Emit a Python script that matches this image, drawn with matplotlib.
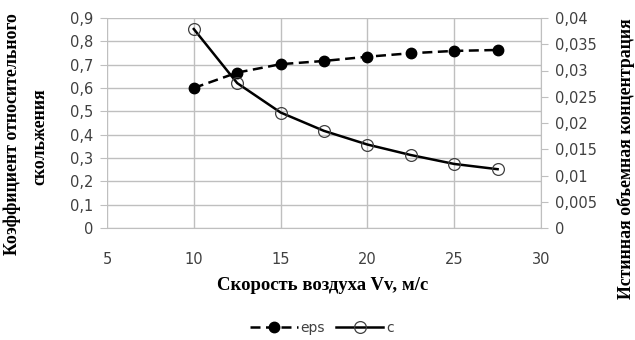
import matplotlib.pyplot as plt

v = [10, 12.5, 15, 17.5, 20, 22.5, 25, 27.5]
eps = [0.600, 0.666, 0.702, 0.716, 0.734, 0.749, 0.759, 0.763]
c = [0.0379, 0.0276, 0.0220, 0.0185, 0.0159, 0.0139, 0.0122, 0.0112]

x_ticks = [5, 10, 15, 20, 25, 30]
y1_ticks = [0, 0.1, 0.2, 0.3, 0.4, 0.5, 0.6, 0.7, 0.8, 0.9]
y2_ticks = [0, 0.005, 0.01, 0.015, 0.02, 0.025, 0.03, 0.035, 0.04]


def comma(val):
    return ('%g' % val).replace('.', ',')


W, H = 635, 340
grid_col = '#bfbfbf'
tick_col = '#404040'

fig = plt.figure(figsize=(6.35, 3.4), dpi=100)
ax = fig.add_axes([107 / W, 1 - 228 / H, 434 / W, 210 / H])
ax2 = ax.twinx()

ax.set_xlim(5, 30)
ax.set_ylim(0, 0.9)
ax2.set_ylim(0, 0.04)
ax.set_xticks(x_ticks)
ax.set_xticklabels([comma(t) for t in x_ticks])
ax.set_yticks(y1_ticks)
ax.set_yticklabels([comma(t) for t in y1_ticks])
ax2.set_yticks(y2_ticks)
ax2.set_yticklabels([comma(t) for t in y2_ticks])

ax.grid(True, color=grid_col, linewidth=1)
ax.set_axisbelow(True)
for a in (ax, ax2):
    for s in a.spines.values():
        s.set_visible(False)
ax2.spines['right'].set_visible(True)
ax2.spines['right'].set_color(grid_col)
ax.spines['bottom'].set_visible(True)
ax.spines['bottom'].set_color(grid_col)

ax.tick_params(axis='y', length=5, color=grid_col, labelcolor=tick_col, pad=5)
ax.tick_params(axis='x', length=0, labelcolor=tick_col, pad=17)
ax2.tick_params(axis='y', length=5, color=grid_col, labelcolor=tick_col, pad=5)
for lab in ax.get_xticklabels() + ax.get_yticklabels() + ax2.get_yticklabels():
    lab.set_fontfamily('DejaVu Sans')
    lab.set_fontsize(10.5)

l1, = ax.plot(v, eps, color='black', linestyle='--', linewidth=1.8,
              marker='o', markersize=7.5, markerfacecolor='black',
              markeredgecolor='black', label='eps', dashes=(4, 2.2))
l2, = ax2.plot(v, c, color='black', linestyle='-', linewidth=1.8,
               marker='o', markersize=8.5, markerfacecolor='none',
               markeredgecolor='#404040', markeredgewidth=0.9, label='c')

serif = dict(family='Liberation Serif', weight='bold')
fig.text(323 / W, 1 - 286 / H, 'Скорость воздуха Vv, м/с', ha='center',
         va='center', size=13.5, **serif)
fig.text(12 / W, 1 - 134 / H, 'Коэффициент относительного', rotation=90,
         ha='center', va='center', size=12.8, **serif)
fig.text(40 / W, 1 - 137 / H, 'скольжения', rotation=90,
         ha='center', va='center', size=12.8, **serif)
fig.text(626 / W, 1 - 159 / H, 'Истинная объемная концентрация', rotation=90,
         ha='center', va='center', size=12.8, **serif)

leg = fig.legend(handles=[l1, l2], loc='center', bbox_to_anchor=(322 / W, 1 - 328 / H),
                 ncol=2, frameon=False, prop=dict(family='DejaVu Sans', size=10),
                 handlelength=3.4, columnspacing=0.8, handletextpad=0.2)
for t in leg.get_texts():
    t.set_color(tick_col)

fig.savefig('out.png', dpi=100)
